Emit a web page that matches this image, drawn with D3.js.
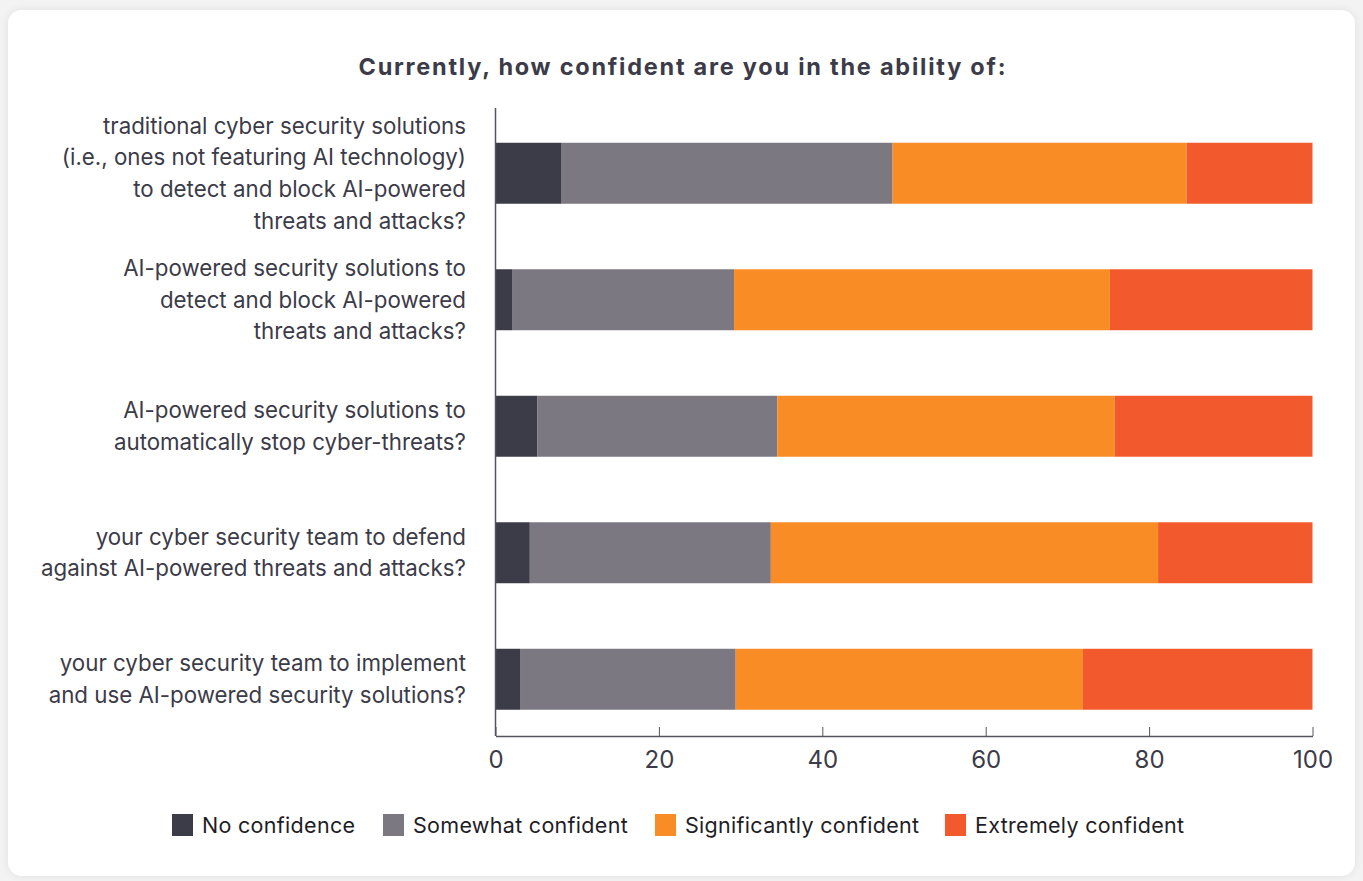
<!DOCTYPE html>
<html><head><meta charset="utf-8">
<script src="https://cdn.jsdelivr.net/npm/d3@7"></script>
<style>
body{margin:0;background:#f3f3f4;}
svg{display:block;}
</style></head>
<body>
<svg id="c" width="1363" height="881"></svg>
<script>
const categories = [
  ["traditional cyber security solutions","(i.e., ones not featuring AI technology)","to detect and block AI-powered","threats and attacks?"],
  ["AI-powered security solutions to","detect and block AI-powered","threats and attacks?"],
  ["AI-powered security solutions to","automatically stop cyber-threats?"],
  ["your cyber security team to defend","against AI-powered threats and attacks?"],
  ["your cyber security team to implement","and use AI-powered security solutions?"]
];
const seriesNames = ["No confidence","Somewhat confident","Significantly confident","Extremely confident"];
const noConfidence = [8.1, 2.1, 5.1, 4.2, 3.0];
const somewhatConfident = [40.5, 27.1, 29.4, 29.5, 26.4];
const significantlyConfident = [36.0, 46.0, 41.3, 47.4, 42.5];
const extremelyConfident = [15.4, 24.8, 24.2, 18.9, 28.1];
const xTicks = [0, 20, 40, 60, 80, 100];
const colors = ["#3c3b48", "#7b7881", "#f98c25", "#f2592d"];
const title = "Currently, how confident are you in the ability of:";

const svg = d3.select("#c");
const defs = svg.append("defs");
const f = defs.append("filter").attr("id","sh").attr("x","-5%").attr("y","-5%").attr("width","110%").attr("height","110%");
f.append("feDropShadow").attr("dx",0).attr("dy",0).attr("stdDeviation",4).attr("flood-color","#000").attr("flood-opacity",0.08);
svg.append("rect").attr("x",8).attr("y",10).attr("width",1347).attr("height",866).attr("rx",14).attr("fill","#fff").attr("filter","url(#sh)");

const textColor = "#3c3b48";
const font = "Inter, 'Noto Sans', sans-serif";

svg.append("text").attr("x",682).attr("y",75).attr("text-anchor","middle")
  .attr("font-family",font).attr("font-weight",700).attr("font-size",23.5).attr("fill",textColor)
  .attr("textLength",647).attr("lengthAdjust","spacing").text(title);

const x = d3.scaleLinear().domain([0,100]).range([495.5,1312.5]);
const y = d3.scaleBand().domain(d3.range(categories.length)).range([110,742.5]).paddingInner(0.518).paddingOuter(0.259);

const data = categories.map((c,i)=>({idx:i, v:[noConfidence[i],somewhatConfident[i],significantlyConfident[i],extremelyConfident[i]]}));
const stack = d3.stack().keys([0,1,2,3]).value((d,k)=>d.v[k]);
const layers = stack(data);

svg.append("g").selectAll("g").data(layers).join("g").attr("fill",(d,i)=>colors[i])
  .selectAll("rect").data(d=>d).join("rect")
  .attr("x",d=>x(d[0])).attr("width",d=>x(d[1])-x(d[0]))
  .attr("y",d=>y(d.data.idx)).attr("height",y.bandwidth());

// y axis line
svg.append("line").attr("x1",x(0)).attr("x2",x(0)).attr("y1",108).attr("y2",736).attr("stroke","#55545e").attr("stroke-width",1.5);

// x axis
const xa = svg.append("g").attr("transform","translate(0,736)")
  .call(d3.axisBottom(x).tickValues(xTicks).tickSize(-9).tickSizeOuter(0).tickPadding(14));
xa.select(".domain").attr("stroke","#55545e").attr("stroke-width",1.5);
xa.selectAll(".tick line").attr("stroke","#55545e").attr("stroke-width",1);
xa.selectAll(".tick text").attr("font-family",font).attr("font-size",24).attr("fill",textColor).attr("dy","0.35em").attr("y",24);

// category labels
const lh = 31.7;
const lab = svg.append("g");
categories.forEach((lines,i)=>{
  const cy = y(i)+y.bandwidth()/2;
  const t = lab.append("text").attr("text-anchor","end").attr("font-family",font).attr("font-size",22.3).attr("fill",textColor);
  lines.forEach((l,j)=>{
    t.append("tspan").attr("x",466).attr("y",cy + (j-(lines.length-1)/2)*lh).attr("dy","0.35em").text(l);
  });
});

// legend
const legendX = [172, 383, 655, 945];
const lg = svg.append("g");
seriesNames.forEach((n,i)=>{
  lg.append("rect").attr("x",legendX[i]).attr("y",814).attr("width",21).attr("height",22).attr("fill",colors[i]);
  lg.append("text").attr("x",legendX[i]+30).attr("y",825).attr("dy","0.35em").attr("font-family",font).attr("font-size",21.5)
    .attr("letter-spacing",0.3).attr("fill","#1e1d26").text(n);
});
</script>
</body></html>
